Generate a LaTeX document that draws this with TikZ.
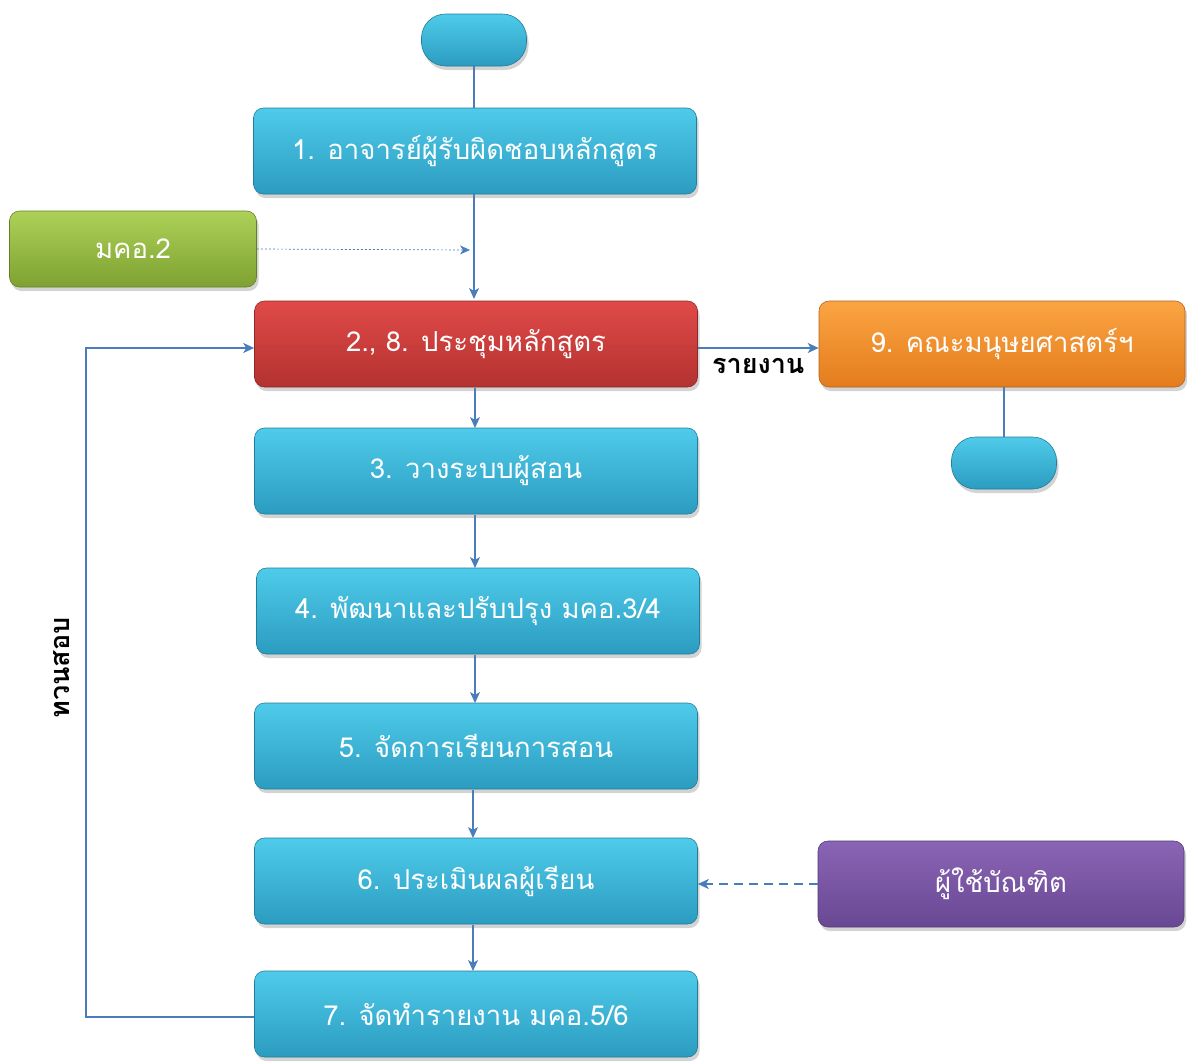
\documentclass[tikz,border=0pt]{standalone}
\usepackage{fontspec}
\newfontfamily\thaifont[Script=Thai]{Loma}
\usetikzlibrary{arrows.meta,shadows,calc}
\definecolor{conn}{HTML}{4A7EBB}
\definecolor{bluetop}{HTML}{4FCBEA}
\definecolor{bluebot}{HTML}{2B9CC0}
\definecolor{redtop}{HTML}{E04A48}
\definecolor{redbot}{HTML}{B33230}
\definecolor{greentop}{HTML}{ADD157}
\definecolor{greenbot}{HTML}{7EA131}
\definecolor{orangetop}{HTML}{FBA443}
\definecolor{orangebot}{HTML}{E47C1C}
\definecolor{purpletop}{HTML}{8A64B5}
\definecolor{purplebot}{HTML}{694893}
\tikzset{
  box/.style={draw=#1bot!80!black, line width=0.6pt, rounded corners=10pt,
    top color=#1top, bottom color=#1bot, text=white,
    font=\thaifont\fontsize{27.5}{32}\selectfont,
    drop shadow={opacity=0.35, shadow xshift=2pt, shadow yshift=-4pt},
    inner sep=0pt},
  flowbox/.style={box=#1, minimum width=443pt, minimum height=86pt},
  sidebox/.style={box=#1, minimum width=366pt, minimum height=86pt},
  term/.style={box=blue, minimum width=105pt, minimum height=52pt, rounded corners=24pt},
  conline/.style={draw=conn, line width=1.4pt},
  arr/.style={conline, -{Stealth[length=11pt,width=10pt,inset=3pt]}},
  lbl/.style={font=\thaifont\bfseries\fontsize{27}{32}\selectfont, text=black}
}
\begin{document}
\begin{tikzpicture}[x=1pt,y=-1pt]
\useasboundingbox (0,0) rectangle (1187,1061);
\node[term] (t1) at (474,40) {};
\node[flowbox=blue] (b1) at (475,151) {1. อาจารย์ผู้รับผิดชอบหลักสูตร};
\node[box=green, minimum width=247pt, minimum height=76pt] (g) at (133,249) {มคอ.2};
\node[flowbox=red] (b2) at (476,344) {2., 8. ประชุมหลักสูตร};
\node[sidebox=orange] (o) at (1002,344) {9. คณะมนุษยศาสตร์ฯ};
\node[term] (t2) at (1004,463) {};
\node[flowbox=blue] (b3) at (476,471) {3. วางระบบผู้สอน};
\node[flowbox=blue] (b4) at (478,611) {4. พัฒนาและปรับปรุง มคอ.3/4};
\node[flowbox=blue] (b5) at (476,746) {5. จัดการเรียนการสอน};
\node[flowbox=blue] (b6) at (476,881) {6. ประเมินผลผู้เรียน};
\node[flowbox=blue] (b7) at (476,1014) {7. จัดทำรายงาน มคอ.5/6};
\node[sidebox=purple] (p) at (1001,884) {ผู้ใช้บัณฑิต};

\draw[conline] (t1.south) -- (b1.north -| t1.south);
\draw[arr] (474,194) -- (474,299);
\draw[conn, line width=0.7pt, dash pattern=on 2pt off 2pt,
  -{Stealth[length=10pt,width=9pt,inset=3pt]}] (g.east) -- (470,250);
\draw[arr] (b2.east |- 0,348) -- node[lbl, below=6pt] {รายงาน} (o.west |- 0,348);
\draw[conline] (o.south -| t2) -- (t2.north);
\draw[arr] (475,388) -- (475,428);
\draw[arr] (475,515) -- (475,568);
\draw[arr] (475,655) -- (475,703);
\draw[arr] (473,790) -- (473,838);
\draw[arr] (473,925) -- (473,971);
\draw[conn, line width=1.6pt, dash pattern=on 9pt off 6pt,
  -{Stealth[length=11pt,width=10pt,inset=3pt]}] (p.west |- 0,884) -- (b6.east |- 0,884);
\coordinate (fb) at (86,1017);
\draw[arr] (b7.west |- fb) -- (fb) -- (fb |- 0,348) -- (b2.west |- 0,348);
\node[lbl, rotate=90] (tv) at (62,668) {ทวนสอบ};
\end{tikzpicture}
\end{document}
